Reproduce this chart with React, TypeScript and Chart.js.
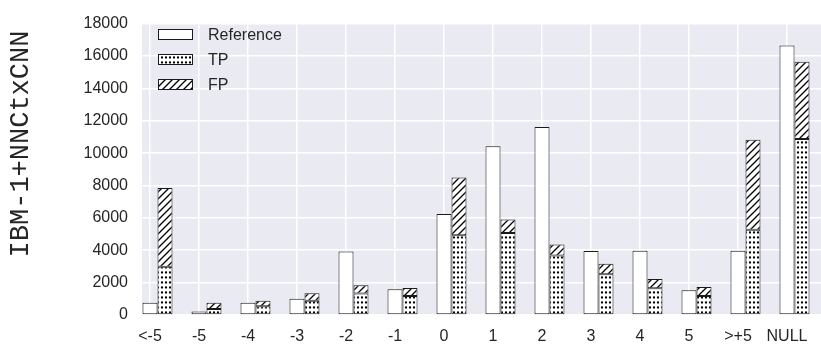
import React, { useEffect, useRef } from "react";
import { Chart, registerables } from "chart.js";

Chart.register(...registerables);

const categories = ["<-5", "-5", "-4", "-3", "-2", "-1", "0", "1", "2", "3", "4", "5", ">+5", "NULL"];
const referenceValues = [760, 220, 760, 1000, 3920, 1590, 6240, 10430, 11620, 3950, 3970, 1530, 3970, 16650];
const tpValues = [2980, 375, 540, 880, 1330, 1170, 4930, 5070, 3680, 2520, 1650, 1170, 5270, 10870];
const fpValues = [4870, 385, 340, 470, 500, 500, 3570, 830, 670, 650, 580, 560, 5560, 4780];
const yTicks = [0, 2000, 4000, 6000, 8000, 10000, 12000, 14000, 16000, 18000];
const yTitle = "IBM-1+NNCtxCNN";

const TEXT = "#262626";
const EDGE = "#1a1a1a";

function makeDots(): CanvasPattern | string {
  const c = document.createElement("canvas");
  c.width = 4;
  c.height = 5;
  const g = c.getContext("2d");
  if (!g) return "#fff";
  g.fillStyle = "#fff";
  g.fillRect(0, 0, 4, 5);
  g.fillStyle = "#000";
  g.beginPath();
  g.arc(2, 2.5, 1.15, 0, Math.PI * 2);
  g.fill();
  return g.createPattern(c, "repeat") || "#fff";
}

function makeHatch(): CanvasPattern | string {
  const s = 7;
  const c = document.createElement("canvas");
  c.width = s;
  c.height = s;
  const g = c.getContext("2d");
  if (!g) return "#fff";
  g.fillStyle = "#fff";
  g.fillRect(0, 0, s, s);
  g.strokeStyle = "#000";
  g.lineWidth = 1.3;
  g.beginPath();
  g.moveTo(-1, s + 1);
  g.lineTo(s + 1, -1);
  g.moveTo(-1, 1);
  g.lineTo(1, -1);
  g.moveTo(s - 1, s + 1);
  g.lineTo(s + 1, s - 1);
  g.stroke();
  return g.createPattern(c, "repeat") || "#fff";
}

export default function App() {
  const ref = useRef<HTMLCanvasElement | null>(null);

  useEffect(() => {
    const canvas = ref.current;
    if (!canvas) return;
    const dots = makeDots();
    const hatch = makeHatch();
    const toXY = (arr: number[]) => arr.map((v, i) => ({ x: i, y: v }));

    const bgPlugin = {
      id: "bgPlugin",
      beforeDraw(chart: any) {
        const { ctx, chartArea } = chart;
        ctx.save();
        ctx.fillStyle = "#EAEAF2";
        ctx.fillRect(chartArea.left, chartArea.top, chartArea.right - chartArea.left, chartArea.bottom - chartArea.top);
        ctx.restore();
      },
    };

    const extrasPlugin = {
      id: "extrasPlugin",
      afterDraw(chart: any) {
        const ctx = chart.ctx;
        ctx.save();
        ctx.translate(21, 144);
        ctx.rotate(-Math.PI / 2);
        ctx.font = "27px 'Liberation Mono', monospace";
        ctx.fillStyle = TEXT;
        ctx.textAlign = "center";
        ctx.textBaseline = "middle";
        ctx.fillText(yTitle, 0, 0);
        ctx.restore();

        const items = [
          { label: chart.data.datasets[1].label, fill: "#fff" },
          { label: chart.data.datasets[2].label, fill: dots },
          { label: chart.data.datasets[3].label, fill: hatch },
        ];
        ctx.save();
        items.forEach((it, i) => {
          const cy = 34.5 + i * 25;
          ctx.fillStyle = it.fill;
          ctx.fillRect(158, cy - 5.5, 35, 11);
          ctx.strokeStyle = EDGE;
          ctx.lineWidth = 1;
          ctx.strokeRect(158.5, cy - 5, 34, 10);
          ctx.fillStyle = TEXT;
          ctx.font = "16px 'Liberation Sans', Arial, sans-serif";
          ctx.textAlign = "left";
          ctx.textBaseline = "middle";
          ctx.fillText(it.label, 208, cy + 1);
        });
        ctx.restore();
      },
    };

    const common = {
      borderColor: EDGE,
      borderWidth: 1,
      borderSkipped: false as const,
      categoryPercentage: 45 / 49,
      barPercentage: 1,
    };

    const chart = new Chart(canvas, {
      type: "bar",
      data: {
        datasets: [
          {
            label: "_spacer",
            data: toXY(referenceValues.map(() => 0)),
            backgroundColor: "rgba(0,0,0,0)",
            borderWidth: 0,
            stack: "a",
            categoryPercentage: 45 / 49,
            barPercentage: 1,
          },
          {
            label: "Reference",
            data: toXY(referenceValues),
            backgroundColor: "#ffffff",
            stack: "b",
            ...common,
          },
          {
            label: "TP",
            data: toXY(tpValues),
            backgroundColor: dots as any,
            stack: "c",
            ...common,
          },
          {
            label: "FP",
            data: toXY(fpValues),
            backgroundColor: hatch as any,
            stack: "c",
            ...common,
          },
        ],
      },
      options: {
        animation: false,
        responsive: false,
        devicePixelRatio: 1,
        layout: { padding: { top: 13, left: 0, right: 0, bottom: 0 } },
        plugins: { legend: { display: false }, tooltip: { enabled: false } },
        scales: {
          x: {
            type: "linear",
            min: -8 / 49,
            max: 671 / 49,
            offset: false,
            grid: { color: "#ffffff", lineWidth: 1.5, drawTicks: false, offset: false },
            border: { display: false },
            ticks: {
              stepSize: 1,
              includeBounds: false,
              autoSkip: false,
              maxRotation: 0,
              padding: 12,
              color: TEXT,
              font: { family: "'Liberation Sans', Arial, sans-serif", size: 16 },
              callback: (v: any) => (Number.isInteger(v) && categories[v] !== undefined ? categories[v] : ""),
            },
            afterFit: (s: any) => {
              s.height = 37;
            },
          },
          y: {
            type: "linear",
            stacked: true,
            min: 0,
            max: 18000,
            grid: { color: "#ffffff", lineWidth: 1.5, drawTicks: false },
            border: { display: false },
            afterBuildTicks: (s: any) => {
              s.ticks = yTicks.map((v) => ({ value: v }));
            },
            ticks: {
              padding: 14,
              color: TEXT,
              font: { family: "'Liberation Sans', Arial, sans-serif", size: 16 },
              callback: (v: any) => String(v),
            },
            afterFit: (s: any) => {
              s.width = 142;
            },
          },
        },
      },
      plugins: [bgPlugin, extrasPlugin],
    } as any);

    return () => chart.destroy();
  }, []);

  return (
    <div style={{ position: "fixed", left: 0, top: 0, width: 821, height: 352, background: "#fff" }}>
      <canvas ref={ref} width={821} height={352} style={{ display: "block" }} />
    </div>
  );
}
